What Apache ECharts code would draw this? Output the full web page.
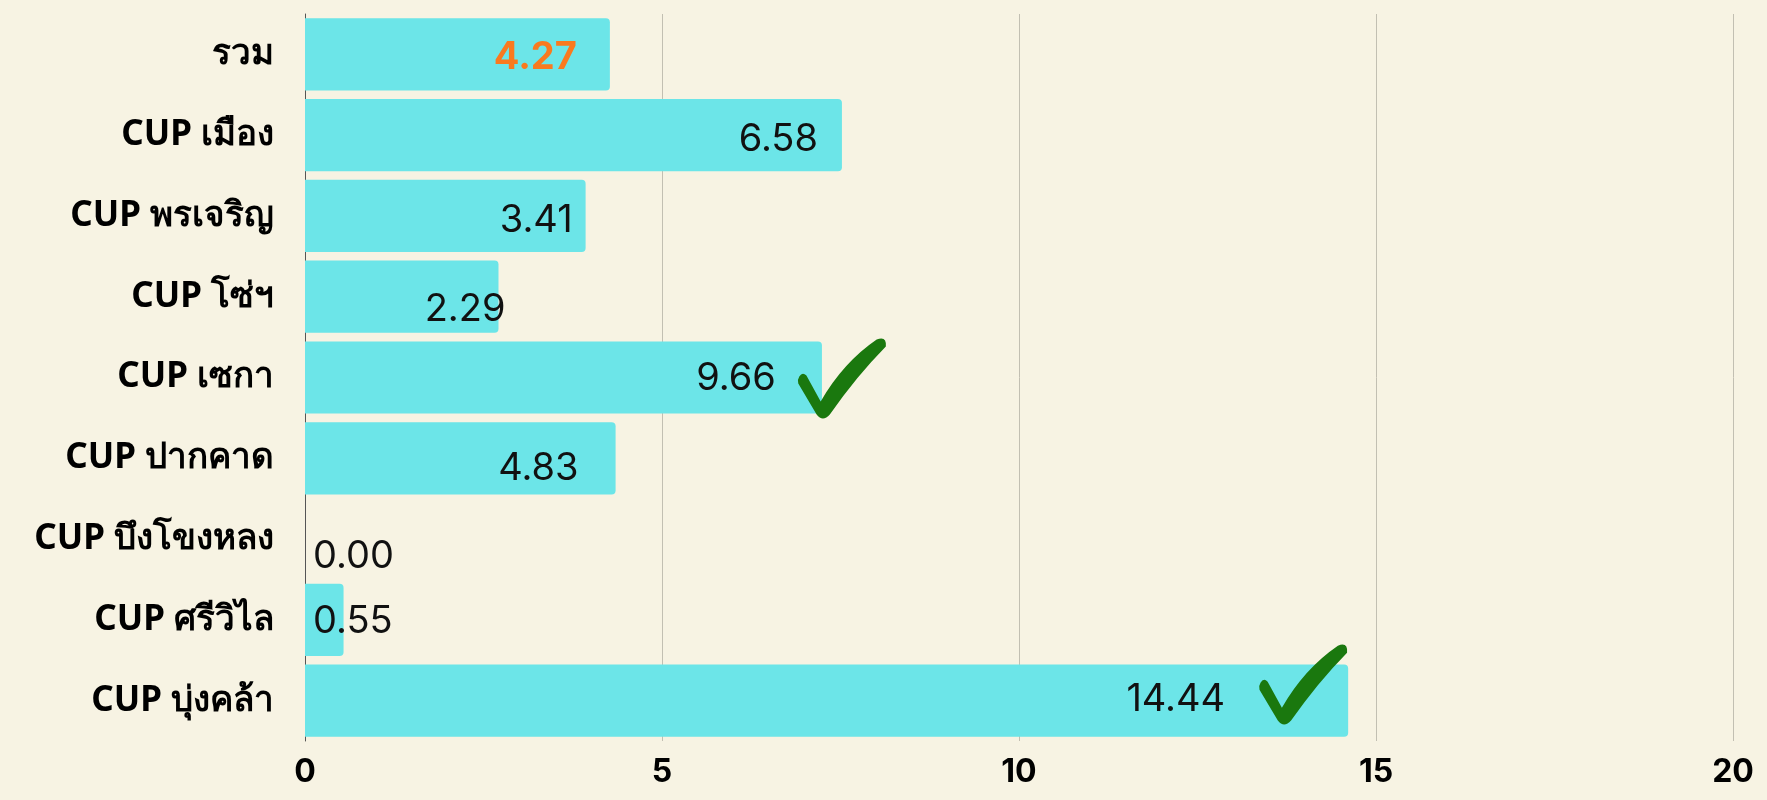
<!DOCTYPE html>
<html>
<head>
<meta charset="utf-8">
<title>chart</title>
<script src="https://cdn.jsdelivr.net/npm/echarts@6/dist/echarts.min.js"></script>
<style>
  html, body { margin: 0; padding: 0; background: #F7F3E3; }
  #main { width: 1767px; height: 800px; }
</style>
</head>
<body>
<div id="main"></div>
<script>
    // หมวดหมู่ (บนลงล่าง)
    var categories = ['รวม', 'CUP เมือง', 'CUP พรเจริญ', 'CUP โซ่ฯ', 'CUP เซกา', 'CUP ปากคาด', 'CUP บึงโขงหลง', 'CUP ศรีวิไล', 'CUP บุ่งคล้า'];
    // ความยาวแท่งตามภาพ
    var barValues = [4.27, 7.52, 3.93, 2.71, 7.24, 4.35, 0, 0.54, 14.61];
    // ตัวเลขที่แสดงบนแท่ง
    var valueLabels = ['4.27', '6.58', '3.41', '2.29', '9.66', '4.83', '0.00', '0.55', '14.44'];
    // แท่งที่มีเครื่องหมายถูก
    var checked = ['CUP เซกา', 'CUP บุ่งคล้า'];
    var xTicks = [0, 5, 10, 15, 20];

    // ตำแหน่งตัวเลข (ขยับจากปลายแท่ง)
    var labelPos = [
        ['insideRight', -28, 3],
        ['insideRight', -19, 4],
        ['insideRight', -8, 5],
        ['insideRight', 12, 13],
        ['insideRight', -41, 1],
        ['insideRight', -32, 10],
        ['insideLeft', 3, 18],
        ['insideLeft', 3, 2],
        ['insideRight', -118, -1]
    ];
    var checkOffset = {
        'CUP เซกา': [20, 1],
        'CUP บุ่งคล้า': [-45, -16]
    };

    var numFont = 'Inter, "Noto Sans", sans-serif';
    var checkPath = 'path://M2 38 Q5 33 9 37 L23 63 Q45 24 78 1 Q88 -3 87 8 Q58 38 32 76 Q25 84 19 76 L1 45 Q0 41 2 38 Z';

    var barData = barValues.map(function (v, i) {
        var p = labelPos[i];
        return {
            value: v,
            label: {
                position: p[0],
                offset: [p[1], p[2]],
                color: i === 0 ? '#F97A1F' : '#111111',
                fontWeight: i === 0 ? 'bold' : 'normal'
            }
        };
    });

    var checkData = checked.map(function (name) {
        var idx = categories.indexOf(name);
        return {
            value: [barValues[idx], name],
            symbolOffset: checkOffset[name]
        };
    });

    var chart = echarts.init(document.getElementById('main'));
    var option = {
        backgroundColor: '#F7F3E3',
        animation: false,
        grid: { left: 305, right: 34, top: 14, bottom: 59 },
        xAxis: {
            type: 'value',
            min: xTicks[0],
            max: xTicks[xTicks.length - 1],
            interval: 5,
            axisLine: { show: false },
            axisTick: { show: false },
            splitLine: { show: true, lineStyle: { color: '#C2BFB2', width: 1 } },
            axisLabel: {
                color: '#000',
                fontSize: 32,
                fontWeight: 'bold',
                fontFamily: numFont,
                margin: 15
            }
        },
        yAxis: {
            type: 'category',
            data: categories,
            inverse: true,
            axisTick: { show: false },
            axisLine: { show: true, lineStyle: { color: '#555', width: 1 } },
            axisLabel: {
                color: '#000',
                fontSize: 35,
                fontWeight: 'bold',
                fontFamily: '"Noto Sans", sans-serif',
                margin: 31
            }
        },
        series: [{
            name: 'bar',
            type: 'bar',
            data: barData,
            barCategoryGap: '10.6%',
            itemStyle: { color: '#6CE5E8', borderRadius: [0, 4, 4, 0] },
            label: {
                show: true,
                fontSize: 38,
                fontFamily: numFont,
                formatter: function (p) { return valueLabels[p.dataIndex]; }
            },
            z: 2
        }, {
            name: 'check',
            type: 'scatter',
            data: checkData,
            symbol: checkPath,
            symbolSize: [88, 80],
            itemStyle: { color: '#1A780E', opacity: 1 },
            silent: true,
            z: 5
        }]
    };
    chart.setOption(option);
</script>
</body>
</html>
